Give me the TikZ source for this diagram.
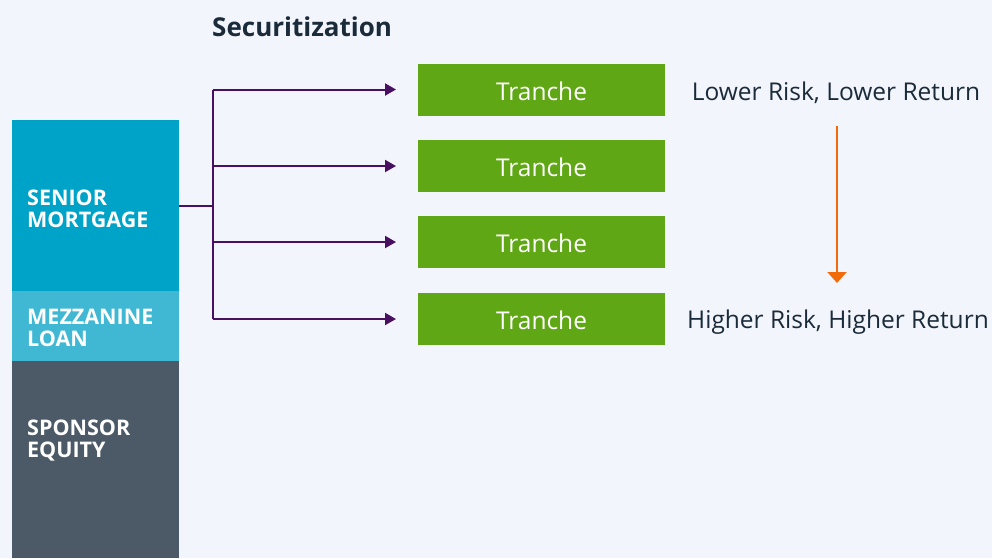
\documentclass[tikz,border=0pt]{standalone}
\usepackage{fontspec}
\setmainfont{Open Sans}
\usetikzlibrary{arrows.meta}
\definecolor{bg}{HTML}{F2F5FC}
\definecolor{senior}{HTML}{00A3C8}
\definecolor{mezz}{HTML}{40B8D4}
\definecolor{equity}{HTML}{4B5A66}
\definecolor{tranche}{HTML}{5FA714}
\definecolor{conn}{HTML}{4A1060}
\definecolor{txt}{HTML}{1B2B3A}
\definecolor{orangearr}{HTML}{F26B0A}
\tikzset{
  layer/.style={draw=none, minimum width=167pt, anchor=north west, inner sep=0pt},
  layerlabel/.style={text=white, font=\bfseries\fontsize{21.5}{22}\selectfont, align=left, anchor=west, inner sep=0pt},
  tr/.style={fill=tranche, minimum width=247pt, minimum height=52pt, text=white, font=\fontsize{24.5}{28}\selectfont, inner sep=0pt},
  trtext/.style={text=white, font=\fontsize{24.5}{28}\selectfont, inner sep=0pt},
  side/.style={text=txt, font=\fontsize{24.5}{28}\selectfont, inner sep=0pt},
  connector/.style={draw=conn, line width=2pt, -{Triangle[length=11pt,width=12pt]}},
  plainconn/.style={draw=conn, line width=2pt}
}
\begin{document}
\begin{tikzpicture}[x=1pt,y=-1pt]
\fill[bg] (0,0) rectangle (992,558);
\useasboundingbox (0,0) rectangle (992,558);
\node[layer, fill=senior, minimum height=171pt] (sen) at (12,120) {};
\node[layer, fill=mezz, minimum height=70pt] (mez) at (12,291) {};
\node[layer, fill=equity, minimum height=197pt] (equ) at (12,361) {};
\node[layerlabel] (senl) at (27,208.5) {SENIOR\\MORTGAGE};
\node[layerlabel] (mezl) at (27,328) {MEZZANINE\\LOAN};
\node[layerlabel] (equl) at (27,441) {SPONSOR\\EQUITY};
\node[text=txt, font=\bfseries\fontsize{26}{30}\selectfont, anchor=west, inner sep=0pt] (title) at (212,27) {Securitization};
\node[tr] (t1) at (541.5,89.5) {};
\node[tr] (t2) at (541.5,166) {};
\node[tr] (t3) at (541.5,242) {};
\node[tr] (t4) at (541.5,319) {};
\node[trtext] at ([yshift=-1.5pt]t1.center) {Tranche};
\node[trtext] at ([yshift=-1.5pt]t2.center) {Tranche};
\node[trtext] at ([yshift=-1.5pt]t3.center) {Tranche};
\node[trtext] at ([yshift=-1.5pt]t4.center) {Tranche};
\coordinate (hub) at (213,206);
\coordinate (a1) at (396,89.5);
\coordinate (a2) at (396,166);
\coordinate (a3) at (396,242);
\coordinate (a4) at (396,319);
\draw[plainconn] (sen.east |- hub) -- (hub);
\draw[plainconn] (hub |- a1) -- (hub |- a4);
\draw[connector] (hub |- a1) -- (a1);
\draw[connector] (hub |- a2) -- (a2);
\draw[connector] (hub |- a3) -- (a3);
\draw[connector] (hub |- a4) -- (a4);
\node[side] (low) at (836,92.5) {Lower Risk, Lower Return};
\node[side] (high) at (838,322.5) {Higher Risk, Higher Return};
\coordinate (o1) at (837,126);
\coordinate (o2) at (837,283);
\draw[draw=orangearr, line width=2pt, -{Triangle[length=11pt,width=19pt]}] (o1) -- (o2);
\end{tikzpicture}
\end{document}
